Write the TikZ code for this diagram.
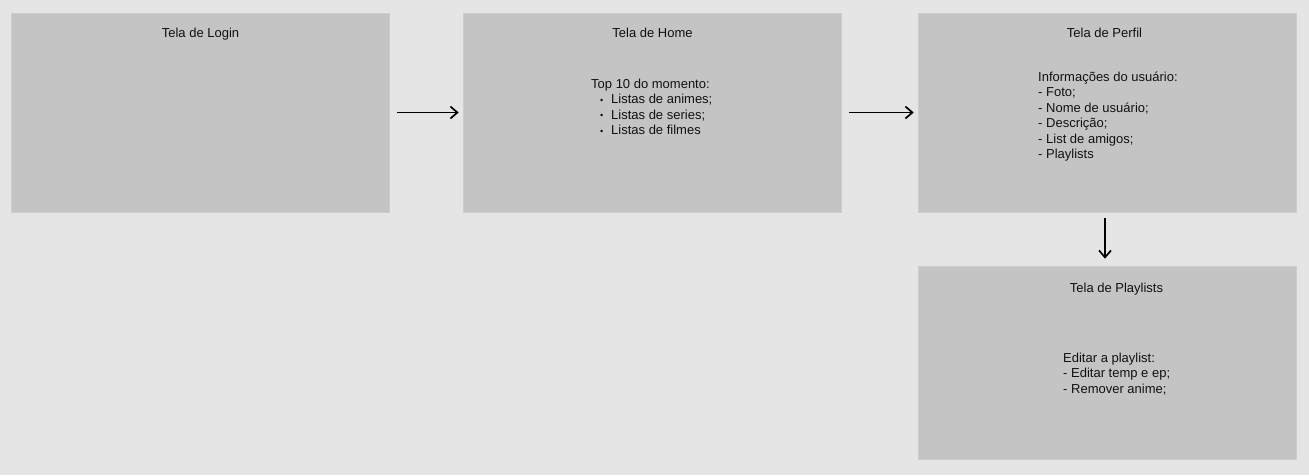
\documentclass[tikz,border=0pt]{standalone}
\usepackage{fontspec}
\setmainfont{Liberation Sans}
\usetikzlibrary{arrows.meta}
\definecolor{fundo}{HTML}{E5E5E5}
\definecolor{telacinza}{HTML}{C4C4C4}
\definecolor{bordacinza}{HTML}{CDCDCD}
\definecolor{textopreto}{HTML}{111111}
\tikzset{
        tela_box/.style={rectangle, fill=telacinza, draw=bordacinza, line width=0.6pt,
                         minimum width=378pt, inner sep=0pt},
        tela_title/.style={anchor=base, inner sep=0pt, text=textopreto,
                           font=\fontsize{13}{15.5}\selectfont},
        tela_text/.style={anchor=north west, align=left, inner sep=0pt, text=textopreto,
                          font=\fontsize{13}{15.5}\selectfont},
        seta/.style={line width=1.7pt, draw=black, -{Straight Barb[length=7pt,width=12pt]}}
    }
\newcommand{\itembola}{\hspace*{9pt}\makebox[11pt][l]{\raisebox{0.5pt}{\scalebox{0.7}{\textbullet}}}}

\begin{document}
\begin{tikzpicture}[x=1pt, y=-1pt]
    \useasboundingbox[fill=fundo] (0, 0) rectangle (1309, 475);
    % telas
    \node[tela_box, minimum height=199pt] (login) at (200, 112.5) {};
    \node[tela_box, minimum height=199pt] (home) at (652, 112.5) {};
    \node[tela_box, minimum height=199pt] (perfil) at (1107, 112.5) {};
    \node[tela_box, minimum height=193pt] (playlists) at (1107, 362.5) {};
    % titulos
    \node[tela_title] (login_title) at (200.5, 37.6) {Tela de Login};
    \node[tela_title] (home_title) at (652.5, 37.6) {Tela de Home};
    \node[tela_title] (perfil_title) at (1104.5, 37.6) {Tela de Perfil};
    \node[tela_title] (playlists_title) at (1116.5, 292.6) {Tela de Playlists};
    % conteudo
    \node[tela_text] (home_text) at (591, 77) {\strut Top 10 do momento:\\
        \itembola Listas de animes;\\
        \itembola Listas de series;\\
        \itembola Listas de filmes};
    \node[tela_text] (perfil_text) at (1038, 70) {\strut Informações do usuário:\\
        - Foto;\\
        - Nome de usuário;\\
        - Descrição;\\
        - List de amigos;\\
        - Playlists};
    \node[tela_text] (playlists_text) at (1063, 351) {\strut Editar a playlist:\\
        - Editar temp e ep;\\
        - Remover anime;};
    % setas
    \draw[seta, shorten <=8pt, shorten >=4pt] (login) -- (home);
    \draw[seta, shorten <=8pt, shorten >=4pt] (home) -- (perfil);
    \draw[seta, shorten <=6pt, shorten >=7pt]
        ([xshift=-2pt]perfil.south) -- ([xshift=-2pt]playlists.north);
\end{tikzpicture}
\end{document}
